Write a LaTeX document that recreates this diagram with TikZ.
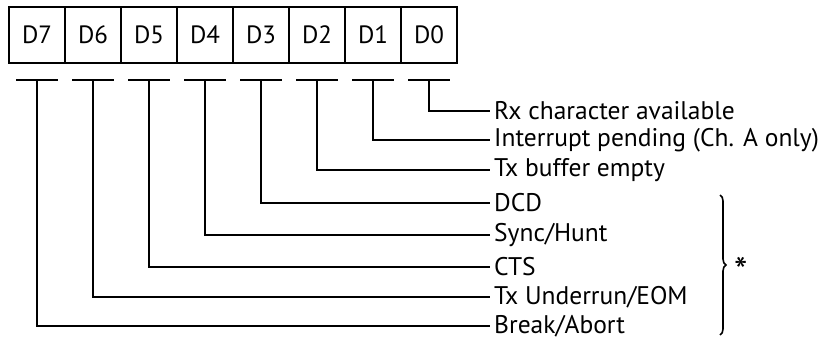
\documentclass[tikz,border=0pt]{standalone}
\usepackage{fontspec}
\setmainfont{PT Sans}
\usetikzlibrary{decorations.pathreplacing}
\begin{document}
\begin{tikzpicture}[x=1pt,y=-1pt,
  bitbox/.style={draw,line width=2.4pt,minimum width=56pt,minimum height=56pt,inner sep=0pt,font=\fontsize{25}{30}\selectfont},
  lbl/.style={anchor=west,inner sep=0pt,font=\fontsize{25.5}{30}\selectfont},
  wire/.style={line width=1.8pt},
  uline/.style={line width=2pt}]
\useasboundingbox (0,0) rectangle (822,342);
\foreach \k in {7,...,0}{
  \pgfmathsetmacro{\cx}{9+(7-\k+0.5)*56}
  \node[bitbox] (b\k) at (\cx,35) {D\k};
  \coordinate (u\k) at (\cx,80);
  \draw[uline] ([xshift=-21pt]u\k) -- ([xshift=21pt]u\k);
}
\node[lbl] (l0) at (494,111) {Rx character available};
\node[lbl] (l1) at (494,140) {Interrupt pending (Ch. A only)};
\node[lbl] (l2) at (494,170) {Tx buffer empty};
\node[lbl] (l3) at (494,203) {DCD};
\node[lbl] (l4) at (494,235) {Sync/Hunt};
\node[lbl] (l5) at (494,267) {CTS};
\node[lbl] (l6) at (494,297) {Tx Underrun/EOM};
\node[lbl] (l7) at (494,326) {Break/Abort};
\foreach \k in {0,...,7}{
  \draw[wire] (u\k) |- ([xshift=-4pt]l\k.west);
}
\coordinate (bt) at (720,195);
\coordinate (bb) at (720,335);
\draw[line width=1.6pt,decorate,decoration={brace,amplitude=6pt}] (bt) -- (bb);
\node[inner sep=0pt,anchor=base west,font=\fontsize{38}{40}\selectfont] (ast) at (734,284) {*};
\end{tikzpicture}
\end{document}
